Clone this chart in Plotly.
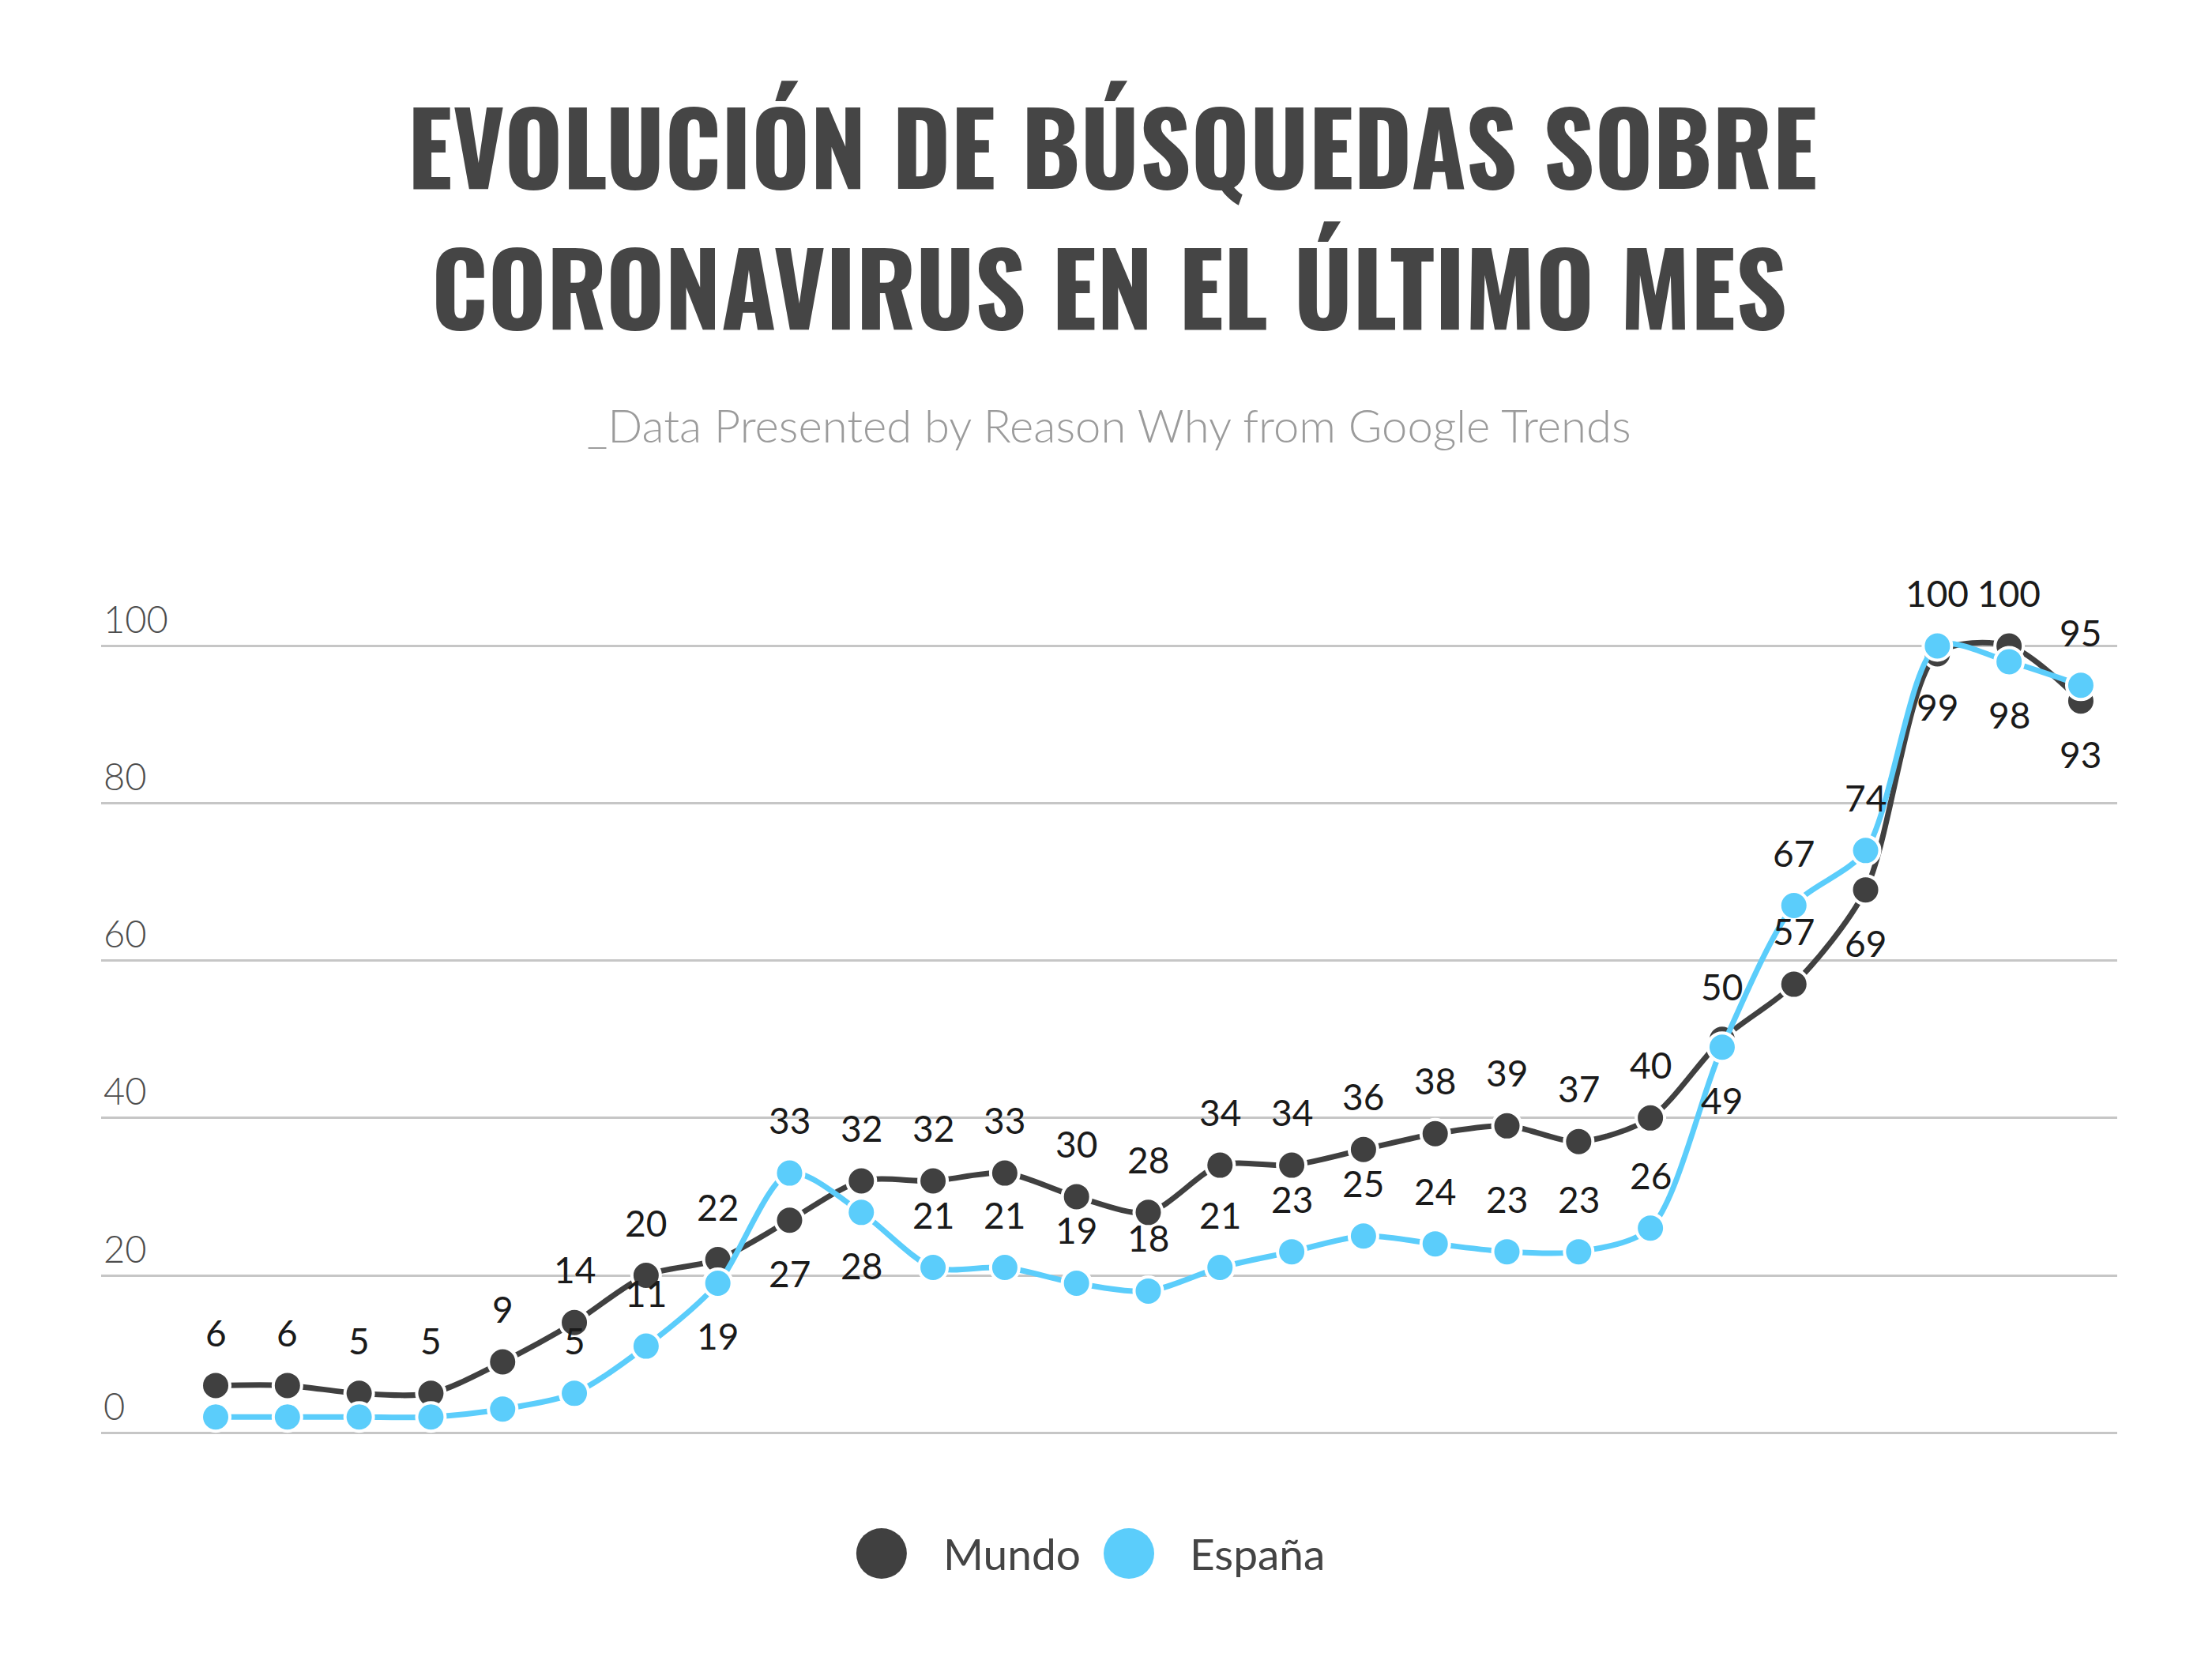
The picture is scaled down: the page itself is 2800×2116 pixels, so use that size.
import plotly.graph_objects as go

# Google Trends interest, last month (index 0..26 = days)
dias = list(range(27))
mundo = [6, 6, 5, 5, 9, 14, 20, 22, 27, 32, 32, 33, 30, 28, 34, 34, 36, 38, 39,
         37, 40, 50, 57, 69, 99, 100, 93]
espana = [2, 2, 2, 2, 3, 5, 11, 19, 33, 28, 21, 21, 19, 18, 21, 23, 25, 24, 23,
          23, 26, 49, 67, 74, 100, 98, 95]
series_names = ["Mundo", "España"]
y_ticks = [0, 20, 40, 60, 80, 100]
title_lines = ["EVOLUCIÓN DE BÚSQUEDAS SOBRE", "CORONAVIRUS EN EL ÚLTIMO MES"]

# where each value label sits: "up", "down" or "" (hidden)
mundo_lab = ["up"] * 27
for i in (8, 23, 24, 26):
    mundo_lab[i] = "down"
espana_lab = ["up"] * 27
for i in (0, 1, 2, 3, 4):
    espana_lab[i] = ""
for i in (7, 9, 21, 25):
    espana_lab[i] = "down"

DARK = "#404040"
BLUE = "#5bcdfb"
LABEL_FONT = dict(family="Lato, sans-serif", size=46, color="#1a1a1a")
TITLE_FONT = dict(family="Oswald, 'Liberation Sans Narrow', sans-serif",
                  size=127, color="#454545", weight="bold")

# plot area in pixels: y from 690 (top) to 1835 (bottom)
PLOT_TOP, PLOT_BOT = 690, 1835


def paper_y(px):
    return (PLOT_BOT - px) / (PLOT_BOT - PLOT_TOP)


fig = go.Figure()
for name, vals, col in [(series_names[0], mundo, DARK), (series_names[1], espana, BLUE)]:
    fig.add_trace(go.Scatter(
        x=dias, y=vals, name=name, mode="lines+markers",
        line=dict(color=col, width=7, shape="spline", smoothing=0.8),
        marker=dict(size=36, color=col, line=dict(color="white", width=4)),
        cliponaxis=False, showlegend=False,
    ))

annotations = []
for vals, pos in [(mundo, mundo_lab), (espana, espana_lab)]:
    for x, v, p in zip(dias, vals, pos):
        if not p:
            continue
        annotations.append(dict(
            x=x, y=v, xref="x", yref="y", text=str(v), showarrow=False,
            yshift=67 if p == "up" else -67, font=LABEL_FONT,
        ))

# second title line
annotations.append(dict(
    x=0.5, y=paper_y(351), xref="paper", yref="paper", yanchor="middle",
    text=title_lines[1], showarrow=False, font=TITLE_FONT,
))

# subtitle
annotations.append(dict(
    x=0.5, y=paper_y(529), xref="paper", yref="paper", yanchor="middle",
    text="_Data Presented by Reason Why from Google Trends", showarrow=False,
    font=dict(family="Lato, sans-serif", size=58, color="#9b9b9b", weight=300),
))

# custom legend (big dots)
shapes = []
for cx, tx, name, col in [(0.3871, 0.4169, series_names[0], DARK),
                          (0.5098, 0.5392, series_names[1], BLUE)]:
    shapes.append(dict(type="circle", xref="paper", yref="paper",
                       xsizemode="pixel", ysizemode="pixel",
                       xanchor=cx, yanchor=paper_y(1958),
                       x0=-32, x1=32, y0=-32, y1=32,
                       fillcolor=col, line=dict(width=0)))
    annotations.append(dict(x=tx, y=paper_y(1958), xref="paper", yref="paper",
                            xanchor="left", yanchor="middle", text=name,
                            showarrow=False,
                            font=dict(family="Lato, sans-serif", size=55, color="#444444")))

fig.update_layout(
    width=2800, height=2116,
    paper_bgcolor="white", plot_bgcolor="white",
    margin=dict(l=120, r=128, t=PLOT_TOP, b=2116 - PLOT_BOT),
    title=dict(
        text=title_lines[0],
        x=0.5, xanchor="center", y=1 - 142 / 2116, yanchor="top", yref="container",
        font=TITLE_FONT,
    ),
    xaxis=dict(range=[-1.597, 26.507], visible=False),
    yaxis=dict(range=[-3, 112], tickvals=y_ticks, ticklabelposition="inside top",
               showgrid=True, gridcolor="#c6c6c6", gridwidth=3, zeroline=False,
               showline=False, ticks="",
               tickfont=dict(family="Lato, sans-serif", size=47, color="#4d4d4d", weight=300)),
    annotations=annotations, shapes=shapes, showlegend=False,
)

fig.write_html("out.html")
